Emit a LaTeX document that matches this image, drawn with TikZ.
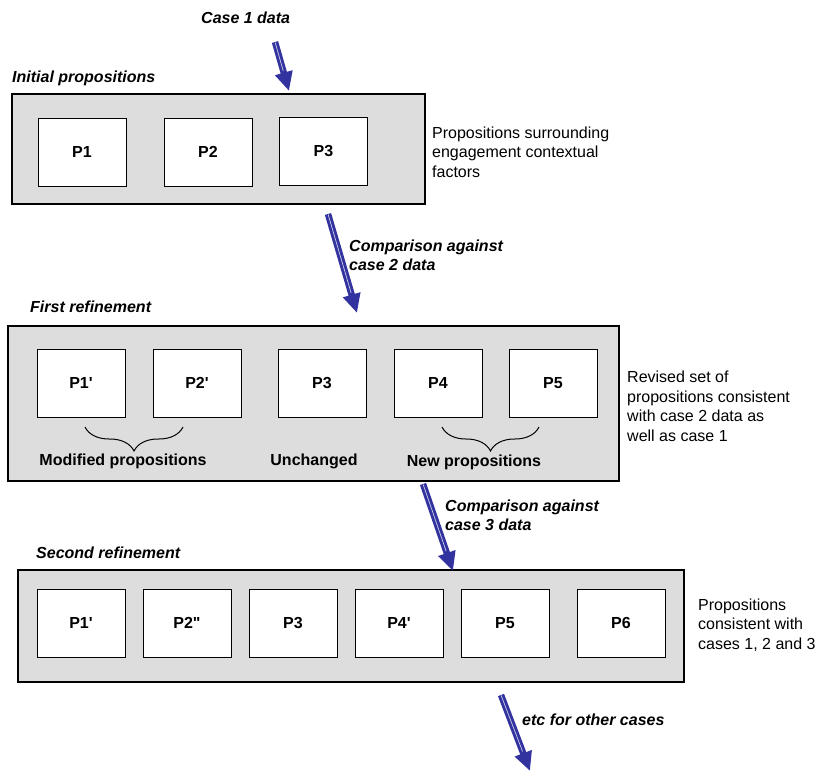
\documentclass[tikz,border=0pt]{standalone}
\usepackage{fontspec}
\setmainfont{Liberation Sans}[Ligatures=TeXOff]
\usetikzlibrary{arrows.meta,decorations.pathreplacing}
\definecolor{panelgrey}{RGB}{221,221,221}
\definecolor{flowblue}{RGB}{51,51,160}
\definecolor{flowcorecol}{RGB}{205,205,235}
\tikzset{
  panel/.style={draw=black, line width=1.1pt, fill=panelgrey, inner sep=0pt},
  prop/.style={draw=black, line width=1pt, fill=white, minimum width=88pt, minimum height=68pt, inner sep=0pt, font=\fontsize{16}{18}\selectfont\bfseries},
  heading/.style={anchor=west, inner sep=0pt, font=\fontsize{16}{18}\selectfont\bfseries\itshape},
  note/.style={anchor=west, align=left, inner sep=0pt, font=\fontsize{16}{19.5}\selectfont},
  flowlabel/.style={anchor=north west, align=left, inner sep=0pt, font=\fontsize{16}{18.5}\selectfont\bfseries\itshape},
  grouplabel/.style={inner sep=0pt, font=\fontsize{16}{18}\selectfont\bfseries},
  flowshaft/.style={draw=flowblue, line width=6.5pt, -{Triangle[length=19pt,width=17pt]}},
  flowcore/.style={draw=flowcorecol, line width=0.7pt, shorten >=21pt, shorten <=0.5pt},
  groupbrace/.style={decorate, decoration={brace, mirror, amplitude=24pt, aspect=0.5}, line width=1pt}
}
\begin{document}
\begin{tikzpicture}[x=1pt, y=1pt]
\useasboundingbox (0,0) rectangle (820,-771);

% panels
\node[panel, minimum width=413pt, minimum height=110pt] (panelA) at (218.5,-149) {};
\node[panel, minimum width=611pt, minimum height=155pt] (panelB) at (313.5,-403.5) {};
\node[panel, minimum width=666pt, minimum height=112pt] (panelC) at (351,-626) {};

% panel headings
\node[heading] (headA) at (12,-78) {Initial propositions};
\node[heading] (headB) at (30,-307) {First refinement};
\node[heading] (headC) at (36,-553) {Second refinement};

% initial propositions
\node[prop] (a1) at (82,-152) {P1};
\node[prop] (a2) at (208,-152) {P2};
\node[prop] (a3) at (323.5,-151.5) {P3};

% first refinement
\node[prop] (b1) at (81,-383) {P1'};
\node[prop] (b2) at (197,-383) {P2'};
\node[prop] (b3) at (322,-383) {P3};
\node[prop] (b4) at (438,-383) {P4};
\node[prop] (b5) at (553,-383) {P5};

% second refinement
\node[prop] (c1) at (81,-623) {P1'};
\node[prop] (c2) at (187,-623) {P2"};
\node[prop] (c3) at (293,-623) {P3};
\node[prop] (c4) at (399,-623) {P4'};
\node[prop] (c5) at (505,-623) {P5};
\node[prop] (c6) at (621,-623) {P6};

% braces and group labels
\coordinate (modL) at (85,-427);
\coordinate (modR) at (183,-427);
\coordinate (newL) at (442,-427);
\coordinate (newR) at (539,-427);
\draw[groupbrace] (modL) -- (modR);
\draw[groupbrace] (newL) -- (newR);
\node[grouplabel] (modlab) at (123,-461) {Modified propositions};
\node[grouplabel] (unchlab) at (314,-461) {Unchanged};
\node[grouplabel] (newlab) at (474,-462) {New propositions};

% side notes
\node[note] (noteA) at (432,-152) {Propositions surrounding\\engagement contextual\\factors};
\node[note] (noteB) at (627,-406.5) {Revised set of\\propositions consistent\\with case 2 data as\\well as case 1};
\node[note] (noteC) at (698,-625) {Propositions\\consistent with\\cases 1, 2 and 3};

% flow arrows
\coordinate (s1) at (275,-42);
\coordinate (e1) at (289,-91);
\coordinate (s2) at (328,-214);
\coordinate (e2) at (357,-313);
\coordinate (s3) at (423,-484);
\coordinate (e3) at (453,-571);
\coordinate (s4) at (501,-695);
\coordinate (e4) at (530,-771);
\foreach \s/\e in {s1/e1, s2/e2, s3/e3, s4/e4}{
  \draw[flowshaft] (\s) -- (\e);
  \draw[flowcore] (\s) -- (\e);
}

% flow labels
\node[heading] (lab1) at (201,-18) {Case 1 data};
\node[flowlabel] (lab2) at (349,-240) {Comparison against\\case 2 data};
\node[flowlabel] (lab3) at (445,-500) {Comparison against\\case 3 data};
\node[heading] (lab4) at (522,-720) {etc for other cases};
\end{tikzpicture}
\end{document}
